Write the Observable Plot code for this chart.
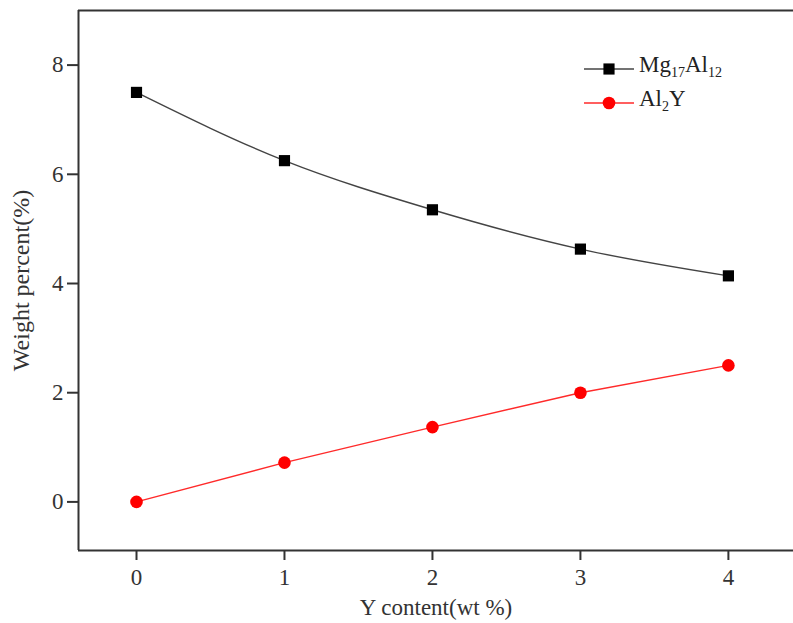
<!DOCTYPE html>
<html>
<head>
<meta charset="utf-8">
<script src="https://cdn.jsdelivr.net/npm/d3@7"></script>
<script src="https://cdn.jsdelivr.net/npm/@observablehq/plot@0.6"></script>
<style>
  html, body { margin: 0; padding: 0; background: #fff; }
  #chart { position: relative; width: 793px; height: 623px; }
  #legend { position: absolute; left: 0; top: 0; pointer-events: none; }
</style>
</head>
<body>
<div id="chart"></div>
<script>
// Data
const yContent = [0, 1, 2, 3, 4];
const mg17al12 = [7.50, 6.25, 5.35, 4.63, 4.14];
const al2y = [0.00, 0.72, 1.37, 2.00, 2.50];
const xTicks = [0, 1, 2, 3, 4];
const yTicks = [0, 2, 4, 6, 8];
const seriesNames = ["Mg17Al12", "Al2Y"];

const xDomain = [-0.392, 4.44];
const yDomain = [-0.89, 9.0];

const mgData = yContent.map((x, i) => ({x, y: mg17al12[i]}));
const alData = yContent.map((x, i) => ({x, y: al2y[i]}));

const font = "'Liberation Serif', 'Times New Roman', serif";

const plot = Plot.plot({
  width: 793,
  height: 623,
  marginLeft: 78,
  marginTop: 10,
  marginBottom: 73,
  marginRight: 0,
  style: {fontFamily: font, fontSize: "23px", color: "#333", background: "#fff"},
  x: {domain: xDomain},
  y: {domain: yDomain},
  marks: [
    Plot.axisX({ticks: xTicks, tickSize: 10, tickPadding: 8, tickFormat: d3.format("d"),
      label: null, fontSize: 23, stroke: "#333", strokeWidth: 2}),
    Plot.axisX({ticks: [], tickSize: 0,
      label: "Y content(wt %)", labelAnchor: "center", labelOffset: 64, labelArrow: "none",
      fontSize: 23}),
    Plot.axisY({ticks: yTicks, tickSize: 11, tickPadding: 4, tickFormat: d3.format("d"),
      label: null, fontSize: 23, stroke: "#333", strokeWidth: 2}),
    Plot.axisY({ticks: [], tickSize: 0,
      label: "Weight percent(%)", labelAnchor: "center", labelOffset: 67, labelArrow: "none",
      fontSize: 24}),
    Plot.ruleX([xDomain[0]], {stroke: "#333", strokeWidth: 2}),
    Plot.ruleY([yDomain[0], yDomain[1]], {stroke: "#333", strokeWidth: 2}),
    Plot.line(mgData, {x: "x", y: "y", stroke: "#444", strokeWidth: 1.4, curve: "monotone-x"}),
    Plot.line(alData, {x: "x", y: "y", stroke: "#ff2a2a", strokeWidth: 1.4}),
    Plot.dot(mgData, {x: "x", y: "y", symbol: "square", r: 6.3, fill: "#000", stroke: "none"}),
    Plot.dot(alData, {x: "x", y: "y", symbol: "circle", r: 6.3, fill: "#ff0000", stroke: "none"})
  ]
});

const chart = document.getElementById("chart");
chart.appendChild(plot);

// Legend overlay
const leg = d3.select(chart).append("svg")
  .attr("id", "legend").attr("width", 793).attr("height", 623)
  .style("font-family", font).style("font-size", "23px");

const entries = [
  {name: seriesNames[0], color: "#000", line: "#444", symbol: d3.symbolSquare, y: 69,
   parts: [["Mg", 0], ["17", 1], ["Al", 0], ["12", 1]]},
  {name: seriesNames[1], color: "#ff0000", line: "#ff2a2a", symbol: d3.symbolCircle, y: 103,
   parts: [["Al", 0], ["2", 1], ["Y", 0]]}
];
entries.forEach(e => {
  const g = leg.append("g");
  g.append("line").attr("x1", 584).attr("x2", 634).attr("y1", e.y).attr("y2", e.y)
    .attr("stroke", e.line).attr("stroke-width", 1.4);
  g.append("path").attr("transform", `translate(609,${e.y})`)
    .attr("d", d3.symbol(e.symbol, Math.PI * 6.3 * 6.3)()).attr("fill", e.color);
  const t = g.append("text").attr("x", 639).attr("y", e.y + 8).attr("fill", "#222");
  e.parts.forEach(([s, sub]) => {
    if (sub) t.append("tspan").attr("font-size", "14px").attr("dy", 5).text(s);
    else t.append("tspan").attr("font-size", "23px").attr("dy", t.selectAll("tspan").size() ? -5 : 0).text(s);
  });
});
</script>
</body>
</html>
